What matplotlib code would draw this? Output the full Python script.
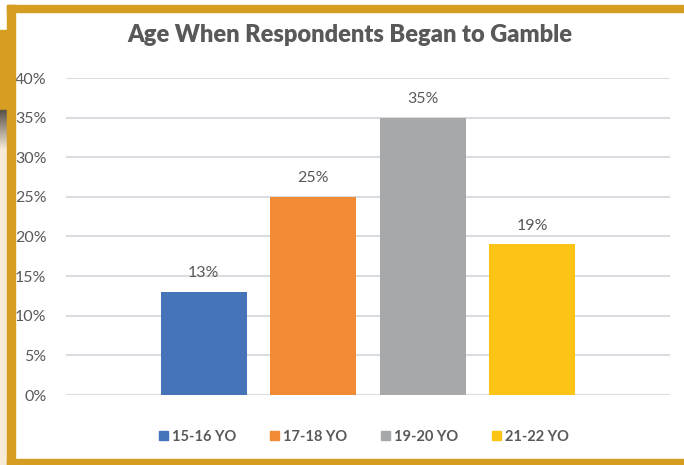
import matplotlib.pyplot as plt
from matplotlib.patches import Rectangle, Patch
import numpy as np

groups = ["15-16 YO", "17-18 YO", "19-20 YO", "21-22 YO"]
shares = [13, 25, 35, 19]
colors = ["#4674B9", "#F28A36", "#A6A8AA", "#FDC416"]
yticks = [0, 5, 10, 15, 20, 25, 30, 35, 40]

plt.rcParams['font.family'] = ['Lato', 'DejaVu Sans']
txt = "#595959"
gold = "#D59E22"

fig = plt.figure(figsize=(6.84, 4.65), dpi=100)
W, H = 684, 465


def px_rect(x0, y0, x1, y1, color):
    # rectangle in pixel coords (top-left origin)
    fig.patches.append(Rectangle((x0 / W, 1 - y1 / H), (x1 - x0) / W, (y1 - y0) / H,
                                 transform=fig.transFigure, color=color, zorder=0))


# decorative frame around the chart
px_rect(0, 110, 7, 465, "#F7EBD8")
px_rect(0, 30, 7, 110, gold)
grad = np.linspace(0, 1, 40)
for i, g in enumerate(grad):
    c = (0.35 + 0.62 * g, 0.32 + 0.6 * g, 0.28 + 0.57 * g)
    px_rect(0, 110 + i, 7, 111 + i, c)
px_rect(7, 5, 684, 12, gold)
px_rect(7, 5, 15, 465, gold)
px_rect(7, 459, 684, 465, gold)

ax = fig.add_axes([66 / W, 1 - 395 / H, (670 - 66) / W, (395 - 78) / H])
x = np.arange(len(groups))
bars = ax.bar(x, shares, width=0.785, color=colors, zorder=3)
for xi, v in zip(x, shares):
    ax.text(xi, v + 1.5, f"{v}%", ha="center", va="bottom", fontsize=11.5, color=txt)

ax.set_xlim(-1.26, 4.26)
ax.set_ylim(0, 40)
ax.set_yticks(yticks)
ax.set_yticklabels([f"{t}%" for t in yticks], fontsize=11.5, color=txt)
ax.set_xticks([])
ax.tick_params(axis="y", length=0, pad=14)
ax.grid(axis="y", color="#D9DCE0", linewidth=1.5, zorder=0)
for s in ax.spines.values():
    s.set_visible(False)

fig.text(349.5 / W, 1 - 35 / H, "Age When Respondents Began to Gamble",
         ha="center", va="center", fontsize=17, fontweight="heavy", color=txt)

handles = [Patch(color=c) for c in colors]
fig.legend(handles, groups, loc="center", bbox_to_anchor=(364 / W, 1 - 437 / H),
           ncol=4, frameon=False, handlelength=0.6, handleheight=0.6,
           handletextpad=0.3, columnspacing=2.3,
           prop={"size": 10.5, "weight": "bold"}, labelcolor=txt)

fig.savefig("out.png", dpi=100)
